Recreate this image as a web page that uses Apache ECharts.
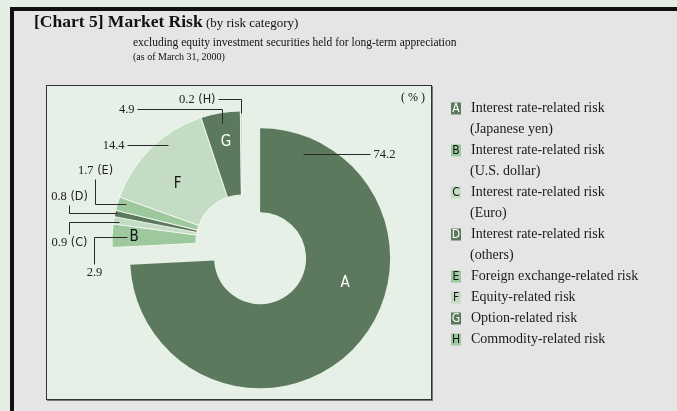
<!DOCTYPE html>
<html><head><meta charset="utf-8">
<script src="https://cdn.jsdelivr.net/npm/echarts@6/dist/echarts.min.js"></script>
<style>
html,body{margin:0;padding:0;width:677px;height:411px;overflow:hidden;background:#e3eee4;}
#frame{position:absolute;left:10px;top:7px;width:700px;height:450px;background:#e5e5e5;border-left:4px solid #111;border-top:4px solid #111;}
#box{position:absolute;left:46px;top:85px;width:384px;height:313px;background:#e6f0e7;border:1px solid #333;box-shadow:1px 1px 0 #777;}
#chart{position:absolute;left:0;top:0;width:677px;height:411px;}
</style></head>
<body>
<div id="frame"></div>
<div id="box"></div>
<div id="chart"></div>
<script>
// ---- data ----
const letters = ['A', 'B', 'C', 'D', 'E', 'F', 'G', 'H'];
const categories = [
  'Interest rate-related risk\n(Japanese yen)',
  'Interest rate-related risk\n(U.S. dollar)',
  'Interest rate-related risk\n(Euro)',
  'Interest rate-related risk\n(others)',
  'Foreign exchange-related risk',
  'Equity-related risk',
  'Option-related risk',
  'Commodity-related risk'
];
const values = [74.2, 2.9, 0.9, 0.8, 1.7, 14.4, 4.9, 0.2];
const unitLabel = '( % )';

// ---- style / layout ----
const SERIF = "'Liberation Serif','Times New Roman',serif";
const NARROW = "'Liberation Sans Narrow','DejaVu Sans Condensed','Liberation Sans',sans-serif";
const DARK = '#5d795d', MID = '#9ec99e', PALE = '#c4dbc4';
const sliceColors = [DARK, MID, PALE, DARK, MID, PALE, DARK, MID];
const CX = 242, CY = 241, R0 = 46, R1 = 130, OFF = 25;
const EXPLODED = 0;
const insideLetter = [true, true, false, false, false, true, true, false];
const letterPos = [{f: 0.398, r: 88.6}, {f: 0.47, r: 108}, null, null, null, {f: 0.42, r: 86}, {f: 0.52, r: 100}, null];
const numLayout = [
  {f: 0.084, r: 112.5, path: 'h', dx: 67},
  {f: 0.47, r: 115, path: 'hv', dx: -33, dy: 27},
  {f: 0.375, r: 124.5, path: 'hv', dx: -50, dy: 12},
  {f: 0.62, r: 128, path: 'hv', dx: -48, dy: -8},
  {f: 0.65, r: 121.8, path: 'hv', dx: -31, dy: -25},
  {f: 0.63, r: 121, path: 'h', dx: -41},
  {f: 0.5, r: 119.7, path: 'vh', dx: -85, dy: -14},
  {f: 0.5, r: 128, path: 'vh', dx: -23, dy: -14}
];

const total = values.reduce((a, b) => a + b, 0);
const angles = [];
let acc = 0;
values.forEach(v => { const s = acc / total * 360; acc += v; angles.push([s, acc / total * 360]); });
const midA = (angles[EXPLODED][0] + angles[EXPLODED][1]) / 2 * Math.PI / 180;
const shift = [OFF * Math.sin(midA), -OFF * Math.cos(midA)];
function pt(i, frac, r) {
  const s = angles[i][0], e = angles[i][1];
  const a = (s + (e - s) * frac) * Math.PI / 180;
  let x = CX + r * Math.sin(a), y = CY - r * Math.cos(a);
  if (i === EXPLODED) { x += shift[0]; y += shift[1]; }
  return [x, y];
}

const chart = echarts.init(document.getElementById('chart'), null, {renderer: 'canvas'});
const keyStyle = (bg, fg) => ({backgroundColor: bg, color: fg, width: 10, height: 12, lineHeight: 12, align: 'center', fontFamily: NARROW, fontSize: 12});
const keyName = c => c === DARK ? 'kd' : (c === MID ? 'km' : 'kp');
const CLEAR = 'rgba(0,0,0,0)';
const basePie = {
  type: 'pie', radius: [R0, R1], startAngle: 90, clockwise: true,
  avoidLabelOverlap: false, emphasis: {disabled: true}, silent: true, selectedMode: false
};

chart.setOption({
  backgroundColor: 'transparent',
  animation: false,
  title: [
    {text: '{b|[Chart 5] Market Risk}{n| (by risk category)}', left: 34, top: 9, padding: 0,
     textStyle: {rich: {
       b: {fontFamily: SERIF, fontWeight: 'bold', fontSize: 17.5, color: '#111', lineHeight: 22, verticalAlign: 'bottom'},
       n: {fontFamily: SERIF, fontWeight: 'normal', fontSize: 13, color: '#111', lineHeight: 22, verticalAlign: 'bottom', padding: [0, 0, 1, 0]}
     }}},
    {text: 'excluding equity investment securities held for long-term appreciation', left: 133, top: 37, padding: 0,
     textStyle: {fontFamily: SERIF, fontWeight: 'normal', fontSize: 11.5, color: '#111'}},
    {text: '(as of March 31, 2000)', left: 133, top: 52, padding: 0,
     textStyle: {fontFamily: SERIF, fontWeight: 'normal', fontSize: 10, color: '#111'}},
    {text: unitLabel, left: 401, top: 92, padding: 0,
     textStyle: {fontFamily: SERIF, fontWeight: 'normal', fontSize: 12, color: '#111'}}
  ],
  legend: {
    orient: 'vertical', left: 446, top: 98, padding: 0, itemGap: 0,
    itemWidth: 0, itemHeight: 10, icon: 'none', selectedMode: false,
    data: categories,
    formatter: name => {
      const i = categories.indexOf(name);
      const lines = name.split('\n');
      let s = '{' + keyName(sliceColors[i]) + '|' + letters[i] + '}{g|}{t|' + lines[0] + '}';
      if (lines[1]) s += '\n{ind|}{t|' + lines[1] + '}';
      return s;
    },
    textStyle: {
      fontFamily: SERIF, fontSize: 14, color: '#1a1a1a', lineHeight: 21,
      rich: {
        kd: keyStyle(DARK, '#ffffff'),
        km: keyStyle(MID, '#111111'),
        kp: keyStyle(PALE, '#111111'),
        g: {width: 10, height: 11},
        ind: {width: 19, height: 11},
        t: {fontFamily: SERIF, fontSize: 14, color: '#1a1a1a', lineHeight: 21}
      }
    }
  },
  series: [
    // remaining slices (the exploded one left clear), with inside letters
    Object.assign({}, basePie, {
      center: [CX, CY], z: 2,
      itemStyle: {borderColor: '#f3f8f2', borderWidth: 0.9},
      label: {show: true, position: 'inside', fontFamily: NARROW, fontSize: 15,
        formatter: p => insideLetter[p.dataIndex] ? letters[p.dataIndex] : ''},
      labelLine: {show: false},
      labelLayout: p => {
        const L = letterPos[p.dataIndex];
        if (!L) return {};
        const q = pt(p.dataIndex, L.f, L.r);
        return {x: q[0], y: q[1], align: 'center', verticalAlign: 'middle'};
      },
      data: values.map((v, i) => ({
        name: categories[i], value: v,
        itemStyle: i === EXPLODED ? {color: CLEAR, borderWidth: 0} : {color: sliceColors[i]},
        label: {color: sliceColors[i] === DARK ? '#ffffff' : '#111111'}
      }))
    }),
    // the exploded slice, pulled out along its mid angle
    Object.assign({}, basePie, {
      center: [CX + shift[0], CY + shift[1]], z: 2,
      label: {show: false}, labelLine: {show: false},
      data: values.map((v, i) => ({
        name: categories[i], value: v,
        itemStyle: i === EXPLODED ? {color: sliceColors[i], borderWidth: 0} : {color: CLEAR, borderWidth: 0}
      }))
    }),
    // value labels with leader lines
    Object.assign({}, basePie, {
      center: [CX, CY], z: 3,
      itemStyle: {color: CLEAR, borderWidth: 0},
      label: {show: true, position: 'outside', color: '#222',
        formatter: p => '{n|' + values[p.dataIndex].toFixed(1) + '}' + (insideLetter[p.dataIndex] ? '' : '{l| (' + letters[p.dataIndex] + ')}'),
        rich: {
          n: {fontFamily: SERIF, fontSize: 12.5, color: '#222'},
          l: {fontFamily: NARROW, fontSize: 12.5, color: '#222'}
        }},
      labelLine: {show: true, length: 5, length2: 5, lineStyle: {color: '#2a2a2a', width: 1}},
      labelLayout: p => {
        const i = p.dataIndex, L = numLayout[i];
        const q = pt(i, L.f, L.r);
        const ax = Math.round(q[0]) + 0.5, ay = Math.round(q[1]) + 0.5;
        let pts, x, y, align, va;
        if (L.path === 'h') {
          const ex = ax + L.dx;
          pts = [[ax, ay], [(ax + ex) / 2, ay], [ex, ay]];
          x = ex + (L.dx > 0 ? 3 : -3); y = ay; align = L.dx > 0 ? 'left' : 'right'; va = 'middle';
        } else if (L.path === 'hv') {
          const ex = ax + L.dx, ey = ay + L.dy;
          pts = [[ax, ay], [ex, ay], [ex, ey]];
          x = ex; y = ey + (L.dy > 0 ? 2 : -2); align = 'center'; va = L.dy > 0 ? 'top' : 'bottom';
        } else {
          const ex = ax + L.dx, ey = ay + L.dy;
          pts = [[ax, ay], [ax, ey], [ex, ey]];
          x = ex - 3; y = ey; align = 'right'; va = 'middle';
        }
        return {x: x, y: y, align: align, verticalAlign: va, labelLinePoints: pts};
      },
      data: values.map((v, i) => ({name: categories[i], value: v}))
    })
  ]
});
</script>
</body></html>
